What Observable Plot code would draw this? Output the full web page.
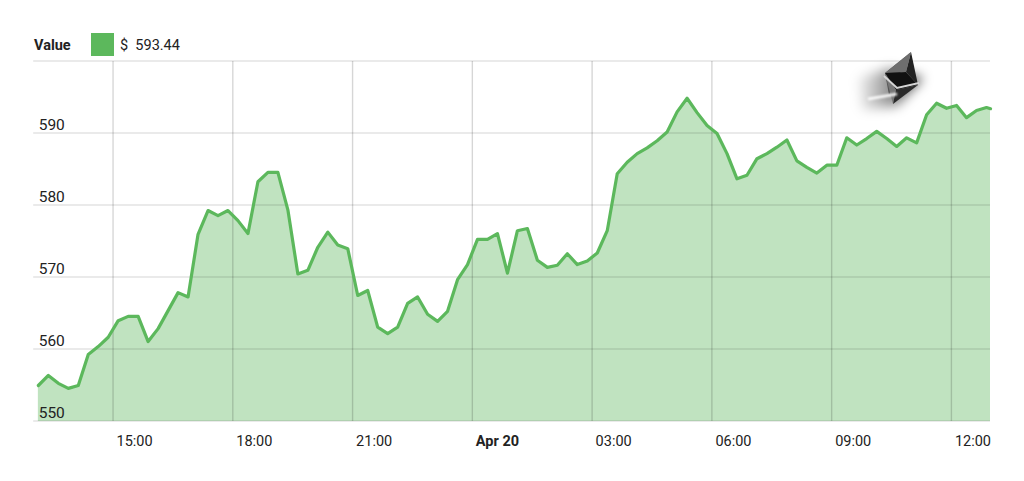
<!DOCTYPE html>
<html><head><meta charset="utf-8">
<script src="https://cdn.jsdelivr.net/npm/d3@7"></script>
<script src="https://cdn.jsdelivr.net/npm/@observablehq/plot@0.6"></script>
<style>
html,body{margin:0;padding:0;background:#fff;overflow:hidden}
body{width:1024px;height:481px;position:relative;font-family:Roboto,sans-serif;color:#222}
#legend{height:58px;position:relative;font-size:14.5px}
#legend span{position:absolute;top:37px;line-height:17px}
#legend i{position:absolute;left:91px;top:33px;width:23px;height:23px;background:#5cb85c}
#logo{position:absolute;left:840px;top:35px}
svg{display:block}
</style></head><body>
<div id="legend"><span style="left:34px;font-weight:700">Value</span><i></i><span style="left:120px">$&nbsp; 593.44</span></div>
<div id="chart"></div>
<svg id="logo" width="110" height="90" viewBox="840 35 110 90">
  <defs>
    <filter id="b1" x="-60%" y="-60%" width="220%" height="220%"><feGaussianBlur stdDeviation="6"/></filter>
    <filter id="b2" x="-50%" y="-200%" width="200%" height="500%"><feGaussianBlur stdDeviation="1"/></filter>
    <linearGradient id="tr" x1="0" x2="1"><stop offset="0" stop-color="#000" stop-opacity="0.05"/><stop offset="1" stop-color="#000" stop-opacity=".8"/></linearGradient>
  </defs>
  <path d="M858 78 L890 68 L923 78 L897 106 L862 110Z" fill="url(#tr)" filter="url(#b1)"/>
  <polygon points="911,52 885,73 889,95" fill="#555"/>
  <polygon points="911,52 885,73 906,72" fill="#6e6e6e"/>
  <polygon points="911,52 906,72 918,85" fill="#222"/>
  <polygon points="885,73 906,72 918,85 896,90" fill="#111"/>
  <polygon points="885,73 896,90 893,104" fill="#777"/>
  <polygon points="896,90 918,85 893,104" fill="#2a2a2a"/>
  <path d="M884 76 L897 88 L919 83" fill="none" stroke="#d5d5d5" stroke-width="2"/>
  <path d="M868 99 L897 94" stroke="#fff" stroke-width="2.5" filter="url(#b2)"/>
</svg>
<script>
const startTime = Date.UTC(2018, 3, 19, 13, 7);
const stepMinutes = 15;
const values = [555,556.4,555.3,554.6,555,559.3,560.4,561.7,564,564.6,564.6,561.1,562.9,565.4,567.9,567.3,
576,579.3,578.6,579.3,577.9,576.1,583.3,584.6,584.6,579.4,570.5,571,574.2,576.3,574.5,574,
567.5,568.2,563.1,562.2,563.1,566.4,567.3,564.9,563.9,565.3,569.7,571.8,575.3,575.3,576.1,570.6,
576.5,576.8,572.4,571.4,571.7,573.3,571.8,572.3,573.4,576.5,584.4,586,587.2,588,589,590.2,
593,594.9,592.9,591.1,590,587.2,583.7,584.2,586.5,587.2,588.1,589.1,586.2,585.3,584.5,585.6,
585.6,589.4,588.4,589.3,590.3,589.3,588.2,589.4,588.7,592.6,594.2,593.5,593.9,592.2,593.2,593.6,593.44];
const yTicks = [550,560,570,580,590,600];
const yLabels = [550,560,570,580,590];
const hourTicks = [[19,15],[19,18],[19,21],[20,3],[20,6],[20,9],[20,12]].map(([d,h]) => new Date(Date.UTC(2018,3,d,h)));
const dayTicks = [new Date(Date.UTC(2018,3,20,0))];
const xDomain = [new Date(Date.UTC(2018,3,19,13,0)), new Date(Date.UTC(2018,3,20,12,58))];

const series = values.map((v,i) => ({
  t: new Date(Math.min(startTime + i*stepMinutes*60000, +xDomain[1])), v
}));
const axisStyle = {tickSize:0, label:null, textAnchor:"start", fill:"#222"};

const plot = Plot.plot({
  width:1024, height:423,
  marginTop:3, marginBottom:60, marginLeft:33.2, marginRight:34,
  style:{fontFamily:"Roboto, sans-serif", background:"transparent", overflow:"visible"},
  x:{type:"utc", domain:xDomain, axis:null},
  y:{domain:[550,600], axis:null},
  marks:[
    Plot.areaY(series,{x:"t", y1:550, y2:"v", fill:"#5cb85c", fillOpacity:0.39}),
    Plot.ruleY(yTicks,{stroke:"#000", strokeOpacity:0.17, strokeWidth:1, dy:-0.5}),
    Plot.ruleX([...hourTicks,...dayTicks],{y1:550,y2:600,stroke:"#000", strokeOpacity:0.16, strokeWidth:1.4, dx:-0.5}),
    Plot.lineY(series,{x:"t", y:"v", stroke:"#5cb85c", strokeWidth:3.2, strokeLinejoin:"round"}),
    Plot.axisY(yLabels,{...axisStyle, anchor:"left", fontSize:15.5, dx:5, dy:-8.5, tickPadding:0}),
    Plot.axisX(hourTicks,{...axisStyle, anchor:"bottom", fontSize:14.5, dx:3, dy:11, tickPadding:3, tickFormat:d3.utcFormat("%H:%M")}),
    Plot.axisX(dayTicks,{...axisStyle, anchor:"bottom", fontSize:14.5, dx:3, dy:11, tickPadding:3, fontWeight:700, tickFormat:d3.utcFormat("%b %d")})
  ]
});
document.getElementById("chart").append(plot);
</script>
</body></html>
